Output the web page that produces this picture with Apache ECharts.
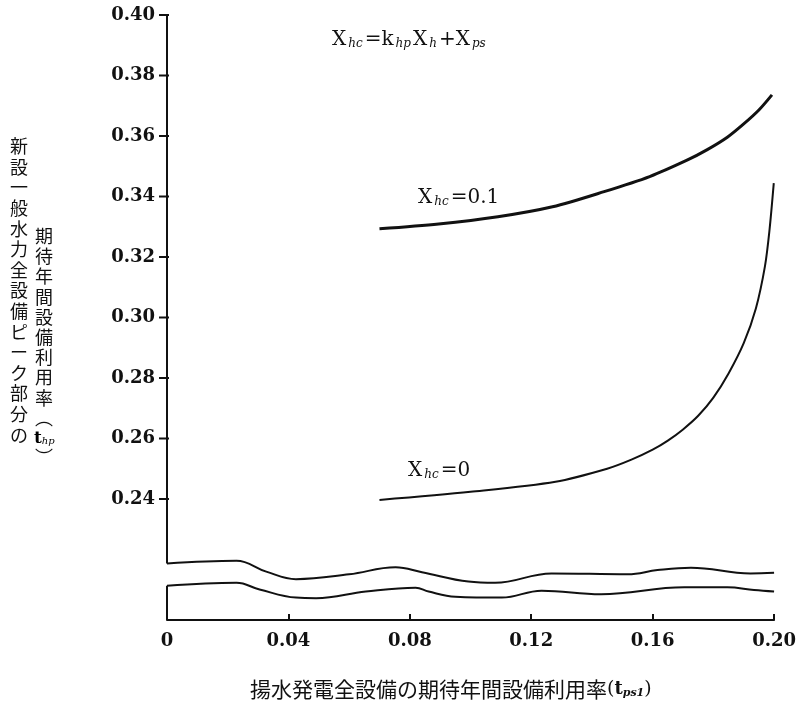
<!DOCTYPE html>
<html>
<head>
<meta charset="utf-8">
<script src="https://cdn.jsdelivr.net/npm/echarts@6/dist/echarts.min.js"></script>
<style>
  html, body { margin: 0; padding: 0; background: #fff; }
  #chart { width: 799px; height: 714px; }
</style>
</head>
<body>
<div id="chart"></div>
<script>
// 軸目盛
const yTickValues = [0.24, 0.26, 0.28, 0.30, 0.32, 0.34, 0.36, 0.38, 0.40]

// X_hc = 0.1 曲線
const hc01X = [0.070, 0.0895, 0.109, 0.127, 0.144, 0.159, 0.1715, 0.178, 0.1846, 0.190, 0.195, 0.1993]
const hc01Y = [0.3293, 0.3309, 0.3333, 0.3366, 0.3416, 0.3466, 0.3521, 0.3555, 0.3596, 0.3640, 0.3686, 0.3736]

// X_hc = 0 曲線
const hc0X = [0.070, 0.100, 0.128, 0.145, 0.153, 0.160, 0.165, 0.170, 0.175, 0.180, 0.185, 0.190, 0.194, 0.197, 0.1985, 0.1999]
const hc0Y = [0.2397, 0.2424, 0.2457, 0.2500, 0.2530, 0.2563, 0.2593, 0.2630, 0.2675, 0.2735, 0.2815, 0.2915, 0.3030, 0.3170, 0.3290, 0.3444]

// 軸の省略（波線）
const breakUpperX = [0, 0.0229, 0.0327, 0.0425, 0.060, 0.0753, 0.084, 0.0993, 0.1081, 0.1267, 0.1518, 0.1616, 0.1726, 0.1922, 0.20]
const breakUpperY = [0.2187, 0.2196, 0.2160, 0.2135, 0.2151, 0.2174, 0.2158, 0.2127, 0.2123, 0.2154, 0.2151, 0.2165, 0.2173, 0.2154, 0.2156]
const breakLowerX = [0, 0.0229, 0.0305, 0.0425, 0.0491, 0.0655, 0.0819, 0.0862, 0.095, 0.1103, 0.1234, 0.143, 0.1704, 0.1846, 0.1934, 0.20]
const breakLowerY = [0.2113, 0.2123, 0.2101, 0.2074, 0.2072, 0.2094, 0.2107, 0.2094, 0.2077, 0.2074, 0.2097, 0.2085, 0.2108, 0.2108, 0.2099, 0.2094]

const yMin = 0.20
const yMax = 0.40

const zip = (xs, ys) => xs.map((x, i) => [x, ys[i]])

const numFont = 'DejaVu Serif'
const cjkFont = 'Noto Sans CJK JP'
const ink = '#111'

const myChart = echarts.init(document.getElementById('chart'), null, { renderer: 'canvas' })

const subStyle = { fontFamily: numFont, fontStyle: 'italic', fontSize: 12, color: ink, padding: [8, 2, 0, 2] }

const option = {
  backgroundColor: '#fff',
  animation: false,
  grid: { left: 167, right: 22, top: 15, bottom: 94, containLabel: false },
  xAxis: {
    type: 'value',
    min: 0,
    max: 0.2,
    interval: 0.04,
    axisLine: { show: true, onZero: false, lineStyle: { color: ink, width: 2 } },
    axisTick: { show: true, inside: true, length: 6, lineStyle: { color: ink, width: 2 } },
    axisLabel: {
      color: ink,
      fontFamily: numFont,
      fontWeight: 'bold',
      fontSize: 18,
      margin: 12,
      formatter: v => (v === 0 ? '0' : v.toFixed(2))
    },
    splitLine: { show: false }
  },
  yAxis: {
    type: 'value',
    min: yMin,
    max: yMax,
    interval: 0.02,
    // 軸線・目盛は系列で描く（省略部分で途切れるため）
    axisLine: { show: false },
    axisTick: { show: false },
    axisLabel: {
      color: ink,
      fontFamily: numFont,
      fontWeight: 'bold',
      fontSize: 18,
      margin: 12,
      formatter: v => (v < 0.235 ? '' : v.toFixed(2))
    },
    splitLine: { show: false }
  },
  graphic: [
    // 縦軸名（縦書き）
    {
      type: 'text', left: 10, top: 136,
      style: {
        text: '新\n設\n一\n般\n水\n力\n全\n設\n備\nピ\nー\nク\n部\n分\nの',
        font: '18px "' + cjkFont + '"', fill: ink, lineHeight: 20.6
      }
    },
    {
      type: 'text', left: 35, top: 226,
      style: {
        text: '期\n待\n年\n間\n設\n備\n利\n用\n率\n︵',
        font: '18px "' + cjkFont + '"', fill: ink, lineHeight: 20.2
      }
    },
    {
      type: 'text', left: 34, top: 430,
      style: {
        text: '{b|t}{s|hp}',
        rich: {
          b: { fontFamily: numFont, fontWeight: 'bold', fontSize: 17, color: ink },
          s: { fontFamily: numFont, fontStyle: 'italic', fontSize: 10, color: ink, padding: [6, 0, 0, 0] }
        }
      }
    },
    {
      type: 'text', left: 35, top: 448,
      style: { text: '︶', font: '18px "' + cjkFont + '"', fill: ink }
    },
    // 横軸名
    {
      type: 'text', left: 250, top: 679,
      style: {
        text: '揚水発電全設備の期待年間設備利用率{p|(}{b|t}{s|ps1}{p|)}',
        font: '21px "' + cjkFont + '"', fill: ink,
        rich: {
          p: { fontFamily: numFont, fontSize: 19, color: ink },
          b: { fontFamily: numFont, fontWeight: 'bold', fontSize: 18, color: ink },
          s: { fontFamily: numFont, fontStyle: 'italic', fontWeight: 'bold', fontSize: 11, color: ink, padding: [7, 0, 0, 0] }
        }
      }
    },
    // 式
    {
      type: 'text', left: 332, top: 30,
      style: {
        text: 'X{s|hc}=k{s|hp}X{s|h}+X{s|ps}',
        font: '20px "' + numFont + '"', fill: ink,
        rich: { s: subStyle }
      }
    },
    {
      type: 'text', left: 418, top: 188,
      style: {
        text: 'X{s|hc}=0.1',
        font: '20px "' + numFont + '"', fill: ink,
        rich: { s: subStyle }
      }
    },
    {
      type: 'text', left: 408, top: 461,
      style: {
        text: 'X{s|hc}=0',
        font: '20px "' + numFont + '"', fill: ink,
        rich: { s: subStyle }
      }
    }
  ],
  series: [
    {
      name: 'X_hc=0.1',
      type: 'line',
      data: zip(hc01X, hc01Y),
      smooth: 0.3,
      symbol: 'none',
      lineStyle: { color: ink, width: 3 }
    },
    {
      name: 'X_hc=0',
      type: 'line',
      data: zip(hc0X, hc0Y),
      smooth: 0.3,
      symbol: 'none',
      lineStyle: { color: ink, width: 2 }
    },
    {
      name: 'break-upper',
      type: 'line',
      data: zip(breakUpperX, breakUpperY),
      smooth: 0.4,
      symbol: 'none',
      lineStyle: { color: ink, width: 2 }
    },
    {
      name: 'break-lower',
      type: 'line',
      data: zip(breakLowerX, breakLowerY),
      smooth: 0.4,
      symbol: 'none',
      lineStyle: { color: ink, width: 2 }
    },
    // 縦軸線（省略部分で途切れる）
    {
      name: 'axis-top',
      type: 'line',
      data: [[0, yMax], [0, breakUpperY[0]]],
      symbol: 'none',
      clip: false,
      lineStyle: { color: ink, width: 2 }
    },
    {
      name: 'axis-bottom',
      type: 'line',
      data: [[0, breakLowerY[0]], [0, yMin]],
      symbol: 'none',
      clip: false,
      lineStyle: { color: ink, width: 2 }
    },
    // 縦軸の目盛
    {
      name: 'y-ticks',
      type: 'custom',
      data: yTickValues.map(v => [0, v]),
      encode: { x: 0, y: 1 },
      clip: false,
      silent: true,
      z: 5,
      renderItem: function(params, api) {
        const p = api.coord([api.value(0), api.value(1)])
        return {
          type: 'line',
          shape: { x1: p[0] - 8, y1: p[1], x2: p[0] + 2, y2: p[1] },
          style: { stroke: ink, lineWidth: 2 }
        }
      }
    }
  ]
}

myChart.setOption(option)
window.addEventListener('resize', function() {
  myChart.resize()
})
</script>
</body>
</html>
